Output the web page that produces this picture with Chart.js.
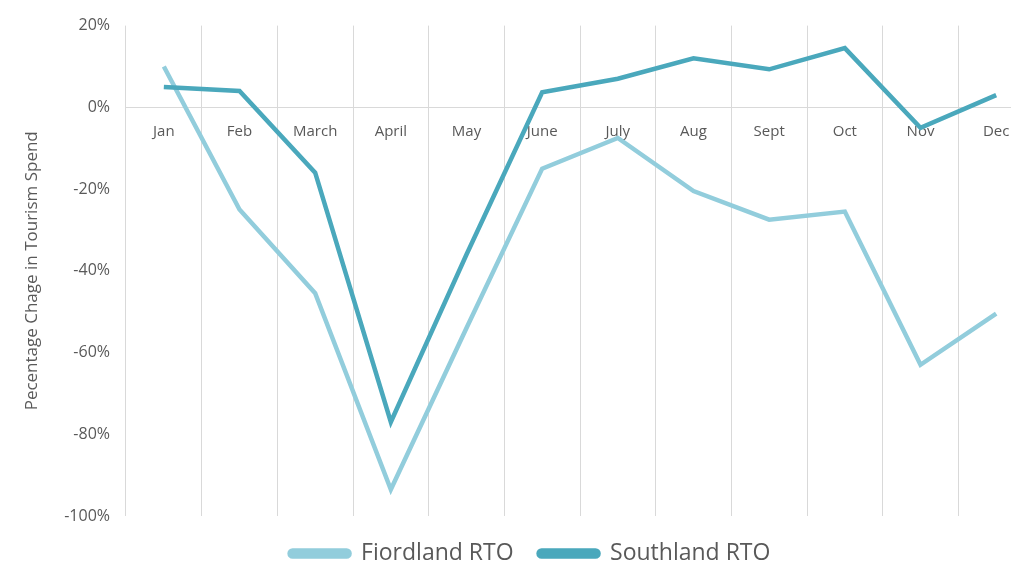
<!DOCTYPE html>
<html>
<head>
<meta charset="utf-8">
<script src="https://cdn.jsdelivr.net/npm/chart.js@4/dist/chart.umd.min.js"></script>
<style>
  html, body { margin: 0; padding: 0; background: #fff; overflow: hidden; }
  #wrap { width: 1034px; height: 562px; }
</style>
</head>
<body>
<div id="wrap"><canvas id="grafica"></canvas></div>
<script>
const meses = ['Jan', 'Feb', 'March', 'April', 'May', 'June', 'July', 'Aug', 'Sept', 'Oct', 'Nov', 'Dec'];
const fiordland = [10, -25, -45.5, -93.5, -54, -15, -7.5, -20.5, -27.5, -25.5, -63, -50.5];
const southland = [5, 4, -16, -77, -36, 3.7, 7, 12, 9.3, 14.5, -5, 3];
const yTicks = [20, 0, -20, -40, -60, -80, -100];

const gris = '#595959';
const fuente = "'Open Sans', sans-serif";

// La leyenda ocupa poco alto pero con separación amplia entre elementos
const ajusteLeyenda = {
  id: 'ajusteLeyenda',
  beforeUpdate(chart) {
    const leg = chart.legend;
    if (leg && !leg._ajustado) {
      const fit = leg.fit;
      leg.fit = function () { fit.call(this); this.height = 46; };
      leg._ajustado = true;
    }
  },
  afterUpdate(chart) {
    const leg = chart.legend;
    leg.top += 1;
    leg.bottom = chart.height + 20;
    leg.left += 13;
    leg.right += 13;
  }
};

new Chart(document.getElementById('grafica').getContext('2d'), {
  type: 'line',
  data: {
    labels: meses,
    datasets: [{
      label: 'Fiordland RTO',
      data: fiordland,
      borderColor: '#92cddc',
      backgroundColor: '#92cddc',
      borderWidth: 4.5,
      pointRadius: 0,
      tension: 0,
      order: 1
    }, {
      label: 'Southland RTO',
      data: southland,
      borderColor: '#4aa8bc',
      backgroundColor: '#4aa8bc',
      borderWidth: 4.5,
      pointRadius: 0,
      tension: 0,
      order: 0
    }]
  },
  options: {
    responsive: true,
    maintainAspectRatio: false,
    animation: false,
    layout: { padding: { top: 24, left: 0, right: 0, bottom: 0 } },
    plugins: {
      tooltip: { enabled: false },
      legend: {
        position: 'bottom',
        labels: {
          sort: (a, b) => a.datasetIndex - b.datasetIndex,
          boxWidth: 60,
          boxHeight: 6,
          useBorderRadius: true,
          borderRadius: 3,
          padding: 25,
          color: gris,
          font: { family: fuente, size: 23 }
        }
      }
    },
    scales: {
      x: {
        position: { y: 0 },
        offset: true,
        grid: { offset: true, color: '#d9d9d9', drawTicks: false },
        border: { display: true, color: '#d9d9d9', width: 1 },
        ticks: { color: gris, font: { family: fuente, size: 15 }, padding: 15, maxRotation: 0 }
      },
      y: {
        min: -100,
        max: 20,
        afterBuildTicks: axis => { axis.ticks = yTicks.map(v => ({ value: v })); },
        afterFit: axis => { axis.width = 126; },
        grid: { display: false, drawTicks: false },
        border: { display: false },
        ticks: {
          color: gris,
          font: { family: fuente, size: 16 },
          padding: 16,
          callback: v => v + '%'
        },
        title: {
          display: true,
          text: 'Pecentage Chage in Tourism Spend',
          color: gris,
          font: { family: fuente, size: 17 },
          padding: { top: 22, bottom: 0 }
        }
      }
    }
  },
  plugins: [ajusteLeyenda]
});
</script>
</body>
</html>
